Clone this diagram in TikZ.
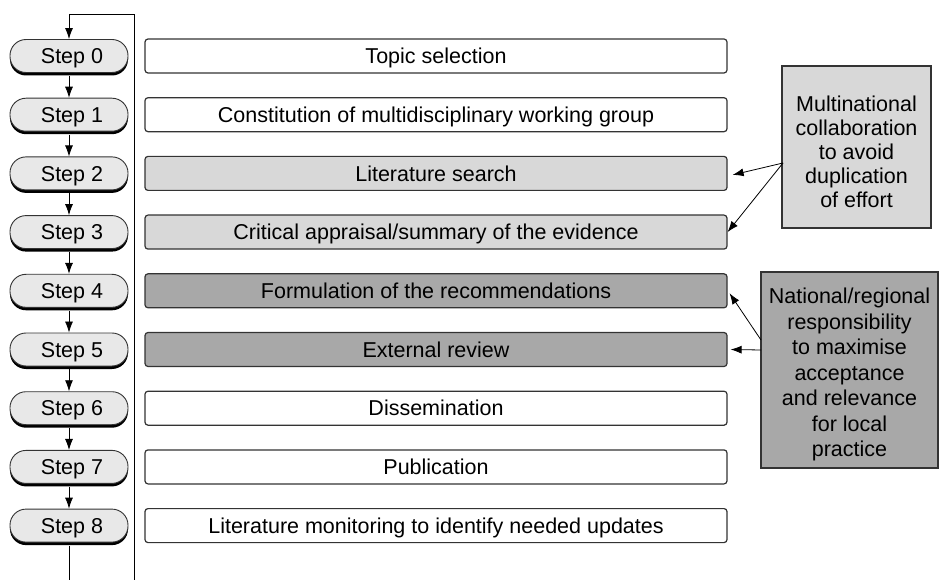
\documentclass[tikz,border=0pt]{standalone}
\usepackage{fontspec}
\setmainfont{Liberation Sans}
\usetikzlibrary{shadows,arrows.meta}
\definecolor{pillfill}{HTML}{E8E8E8}
\definecolor{lgray}{HTML}{D8D8D8}
\definecolor{dgray}{HTML}{A8A8A8}
\definecolor{edgec}{HTML}{333333}
\begin{document}
\begin{tikzpicture}[x=1pt,y=-1pt,
  font=\fontsize{21.5}{24}\selectfont,
  pill/.style={draw=edgec, line width=0.9pt, fill=pillfill, rounded corners=16pt,
    minimum width=118pt, minimum height=33pt, inner sep=0pt,
    text height=15.4pt, text depth=0pt,
    general shadow={fill=black, shadow yshift=-3pt}},
  stepbox/.style={draw=edgec, line width=1.2pt, rounded corners=3pt,
    minimum width=582pt, minimum height=34pt, inner sep=0pt,
    text height=15.4pt, text depth=0pt},
  notebox/.style={draw=edgec, line width=1.2pt, align=center, inner sep=0pt},
  conn/.style={line width=0.8pt, black},
  arr/.style={conn, -{Latex[length=11pt,width=8pt]}}
]
\useasboundingbox (0,0) rectangle (940,580);
\fill[white] (0,0) rectangle (940,580);

% steps
\foreach \i/\t/\c in {0/{Topic selection}/white,
  1/{Constitution of multidisciplinary working group}/white,
  2/{Literature search}/lgray,
  3/{Critical appraisal{/}summary of the evidence}/lgray,
  4/{Formulation of the recommendations}/dgray,
  5/{External review}/dgray,
  6/{Dissemination}/white,
  7/{Publication}/white,
  8/{Literature monitoring to identify needed updates}/white}{
  \pgfmathsetmacro{\yy}{56+58.7*\i}
  \node[pill] (s\i) at (69,\yy) {\hspace*{6pt}Step \i};
  \node[stepbox, fill=\c] (b\i) at (436,\yy) {\t};
}

% step arrows
\foreach \i [count=\j from 1] in {0,...,7}{
  \draw[arr] ([yshift=-3pt]s\i.south) -- (s\j.north);
}

% loop line
\coordinate (tl) at (69,14);
\coordinate (tr) at (134,14);
\coordinate (br) at (134,580);
\coordinate (bl) at (69,580);
\draw[conn] (br) -- (tr) -- (tl);
\draw[arr] (tl) -- (s0.north);
\draw[conn] ([yshift=-3pt]s8.south) -- (bl);

% note boxes
\node[notebox, fill=lgray, minimum width=149pt, minimum height=162pt] (m) at (856.5,147)
  {\raisebox{-12.4pt}[0pt][0pt]{\begin{tabular}{@{}c@{}}Multinational\\collaboration\\to avoid\\duplication\\of effort\end{tabular}}};
\node[notebox, fill=dgray, minimum width=177pt, minimum height=196pt,
  font=\fontsize{21.5}{25.5}\selectfont] (n) at (849.5,370)
  {\raisebox{-10.4pt}[0pt][0pt]{\begin{tabular}{@{}c@{}}National/regional\\responsibility\\to maximise\\acceptance\\and relevance\\for local\\practice\end{tabular}}};

\coordinate (ma) at (783,163);
\coordinate (na) at (761,340);
\coordinate (nb) at (761,350);
\draw[arr] (ma) -- ([xshift=5pt,yshift=-1.5pt]b2.east);
\draw[arr] (ma) -- (b3.east);
\draw[arr] (na) -- ([xshift=2pt,yshift=-2.5pt]b4.east);
\draw[arr] (nb) -- ([xshift=3pt]b5.east);
\end{tikzpicture}
\end{document}
